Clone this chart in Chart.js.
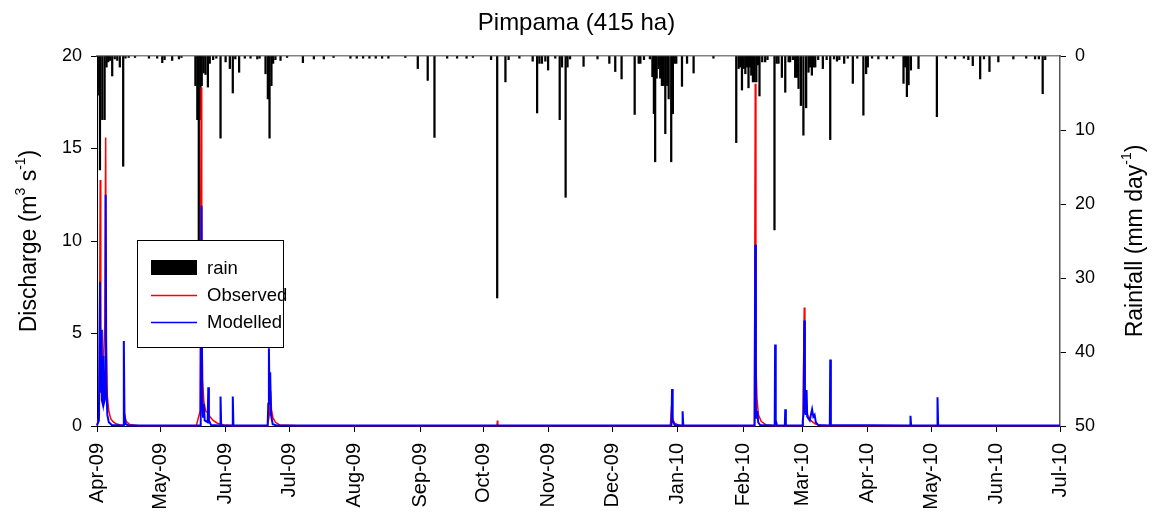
<!DOCTYPE html>
<html>
<head>
<meta charset="utf-8">
<script src="https://cdn.jsdelivr.net/npm/chart.js@4"></script>
<style>
html,body{margin:0;padding:0;background:#fff;}
#wrap{position:relative;width:1153px;height:519px;}
</style>
</head>
<body>
<div id="wrap"><canvas id="c" width="1153" height="519"></canvas></div>
<script>
// ---------- DATA (x = days since 1 Apr 2009) ----------
const monthDays = [0,30,61,91,122,153,183,214,244,275,306,334,365,395,426,456];
const monthLabels = ['Apr-09','May-09','Jun-09','Jul-09','Aug-09','Sep-09','Oct-09','Nov-09','Dec-09','Jan-10','Feb-10','Mar-10','Apr-10','May-10','Jun-10','Jul-10'];

const rainDay = [0.4,1.4,2.5,3.6,4.5,5.3,6.1,7.2,8.4,9.6,10.8,12.4,13.5,15,18,24.6,28.5,30.9,32,35.6,38.8,40,
  46.6,47.5,48.2,49.0,49.6,50.5,51.4,52.5,53.4,55,56.5,58.5,60.9,62.9,64.3,65.5,67.3,70,72.7,75.9,77,
  79.8,80.9,81.7,82.6,83.4,84.5,86.9,90,97.5,102.7,107.4,112,120,123,126,129,132,135,138,146,151.9,156.6,159.8,165.8,170.5,175,178,
  186.6,189.5,193.4,194.9,200,206.3,208.4,209.5,210.7,212.3,213.6,217,219.1,220.2,221.9,222.8,224,230.4,237,242.6,245.4,248.4,254.6,256.5,257.3,259,261.8,
  263,263.7,264.3,265,265.9,266.7,267.5,268.3,269.1,270,270.7,271.9,272.7,273.5,274.3,277,279.4,282.5,291.9,
  302.7,303.8,304.6,305.4,306.2,307.0,307.8,308.5,309.2,309.8,310.6,311.4,312.2,313,313.7,315,316.4,317.5,320.8,321.8,322.7,324.3,325.9,327.5,328.2,329.5,
  330.6,331.4,332.2,333.3,334.5,335.8,336.9,337.7,338.5,339.3,340.1,341.5,343.7,345.5,347.2,349,350.4,351.5,353.8,355.5,357.9,360,362.9,364.2,365.0,367,370,374,377,
  381.9,382.7,383.5,384.3,385.4,389.0,397.7,402,406.3,410.5,412.6,414.7,418.2,420,422.6,426.8,433.9,440,444.2,446,447.8,449];
const rainMm = [5.3,15.4,8.6,8.6,1.5,0.8,0.6,2.7,0.4,0.6,1.5,14.9,0.3,0.2,0.2,0.3,0.3,0.9,0.5,0.6,0.4,0.2,
  4,8.6,25.5,8.6,4,2.3,2.5,4.2,1.0,0.5,0.3,11.1,0.8,1.7,5.0,0.4,2.2,0.3,0.3,0.4,0.3,
  2.4,5.8,11.1,4,1,0.5,0.6,0.2,0.9,0.4,0.4,0.2,0.3,0.3,0.3,0.3,0.3,0.3,0.3,0.2,1.7,3.3,11.0,0.3,0.3,0.3,0.2,
  0.5,32.7,3.5,0.5,0.3,0.7,7.7,1,1,0.7,1.9,0.3,8.6,1.5,19.1,1.5,0.4,1.4,0.4,1.0,2.1,3.1,7.9,1.0,1.0,0.5,0.4,
  2.8,7.8,14.3,3,1.7,3,4,4,10.5,4,5.8,14.3,7.8,1,1,4.1,1,2.3,0.3,
  11.7,1.7,1.5,4.6,1.7,2.4,1.5,4.3,1.5,2.6,3.5,3.5,3.5,1.2,5.4,0.8,0.8,0.5,23.5,1.0,1.0,2.9,4.9,0.8,0.8,0.5,
  2.9,2.9,4.4,6.7,10.7,7,2.2,1.5,2.6,1.5,1.5,0.5,1.7,0.5,11.3,0.4,0.7,0.5,1,0.3,3.7,0.3,8,2.4,1.5,0.3,0.4,0.4,0.3,
  3.7,1.5,5.5,3.9,1.9,1.7,8.2,0.3,0.4,0.3,0.5,1.3,3.1,0.4,2.1,0.8,0.4,0.3,0.4,0.4,5.1,0.5];

const obsDay = [0,1.1,1.5,1.8,2.4,3.0,3.7,4.1,4.4,4.9,5.6,6.5,7.5,9,11,12.5,12.7,13.0,13.8,15.5,20,47,48.8,49.3,49.6,50.0,50.6,51.5,52.5,53.5,55,57,60,65,
  80.8,81.6,82.2,82.6,83.3,84.5,86.5,95,189.4,189.6,189.8,271.5,272.1,272.5,273.5,276,311.3,311.7,312.0,312.5,313.2,314.5,317,320.9,321.1,321.5,
  334.0,334.3,334.9,335.2,335.8,336.5,338,340,343,456];
const obsQ = [0.02,0.6,13.3,3.5,2.2,3.5,5.5,15.6,4.5,1.6,0.8,0.4,0.25,0.12,0.05,0.03,1.4,0.6,0.25,0.08,0.02,0.01,0.8,18.3,6,2.5,1.3,0.8,0.7,0.5,0.3,0.15,0.06,0.02,
  0.01,0.6,1.9,0.9,0.45,0.2,0.06,0.01,0.01,0.3,0.01,0.01,1.1,0.4,0.15,0.02,0.02,18.5,3.5,1.5,0.6,0.25,0.05,0.02,0.3,0.02,
  0.02,0.4,6.4,2,1.1,0.6,0.3,0.12,0.02,0.01];

const modDay = [0,0.9,1.4,1.7,2.0,2.3,2.7,3.0,3.4,3.8,4.1,4.4,4.9,5.6,7,12.5,12.7,13.0,13.6,15,49.1,49.5,49.8,50.2,50.6,51,52.4,52.7,53.0,54,58.3,58.5,58.8,64.1,64.3,64.6,
  80.8,81.1,81.4,81.7,82.0,82.4,83.2,85,272.0,272.3,272.6,273.5,277.1,277.3,277.6,311.4,311.7,312.0,312.4,312.7,313.1,314,320.9,321.1,321.4,322,325.7,325.9,326.2,
  334.0,334.2,334.6,334.9,335.2,335.6,336.0,336.3,337.5,338.6,339.2,339.8,340.4,341.5,347.0,347.2,347.5,385,385.2,385.5,397.8,398,398.3,456];
const modQ = [0.03,0.3,7.8,1.8,5.2,1.4,1.2,3.8,1.3,1.5,12.5,2.2,0.6,0.2,0.05,0.03,4.6,0.7,0.1,0.03,0.03,11.9,1.6,0.5,1.2,0.3,0.2,2.1,0.3,0.05,0.03,1.6,0.03,0.03,1.6,0.03,
  0.03,1.2,4.2,1.3,2.9,0.6,0.1,0.03,0.03,2.0,0.3,0.05,0.03,0.8,0.03,0.03,9.8,1.0,0.4,0.8,0.2,0.05,0.03,4.4,0.3,0.03,0.03,0.9,0.03,
  0.03,0.3,0.7,5.7,1.2,0.6,1.95,0.5,0.3,0.9,0.5,0.6,0.2,0.05,0.03,3.6,0.05,0.03,0.55,0.03,0.03,1.55,0.03,0.03];

const qTicks = [0,5,10,15,20];
const rTicks = [0,10,20,30,40,50];

// ---------- BUILD ----------
const FONT = "'Liberation Sans', Arial, sans-serif";
const zip = (xs, ys) => xs.map((x, i) => ({x: x, y: ys[i]}));

const richTitles = {
  id: 'richTitles',
  afterDraw(chart) {
    const ctx = chart.ctx;
    const a = chart.chartArea;
    const cy = (a.top + a.bottom) / 2;
    function draw(x, parts, size) {
      ctx.save();
      ctx.translate(x, cy);
      ctx.rotate(-Math.PI / 2);
      ctx.fillStyle = '#000';
      ctx.textBaseline = 'middle';
      ctx.textAlign = 'left';
      let w = 0;
      parts.forEach(p => {
        ctx.font = (p.sup ? Math.round(size * 0.62) : size) + 'px ' + FONT;
        p.w = ctx.measureText(p.t).width; w += p.w;
      });
      let cx = -w / 2;
      parts.forEach(p => {
        ctx.font = (p.sup ? Math.round(size * 0.62) : size) + 'px ' + FONT;
        ctx.fillText(p.t, cx, p.sup ? -size * 0.38 : 0);
        cx += p.w;
      });
      ctx.restore();
    }
    draw(30, [{t:'Discharge (m'},{t:'3',sup:true},{t:' s'},{t:'-1',sup:true},{t:')'}], 23);
    draw(1136, [{t:'Rainfall (mm day'},{t:'-1',sup:true},{t:')'}], 23);
  }
};

const boxLegend = {
  id: 'boxLegend',
  afterDraw(chart) {
    const ctx = chart.ctx;
    const ds = chart.data.datasets;
    ctx.save();
    ctx.fillStyle = '#fff';
    ctx.fillRect(137.5, 240.5, 146, 107);
    ctx.strokeStyle = '#000';
    ctx.lineWidth = 1;
    ctx.strokeRect(137.5, 240.5, 146, 107);
    ctx.font = '18.5px ' + FONT;
    ctx.textBaseline = 'middle';
    ctx.textAlign = 'left';
    const rows = [268, 295, 322];
    ds.forEach((d, i) => {
      const y = rows[d.legendRow];
      if (d.type === 'bar') {
        ctx.fillStyle = d.backgroundColor;
        ctx.fillRect(151, y - 8, 46, 15);
      } else {
        ctx.strokeStyle = d.borderColor;
        ctx.lineWidth = 1.3;
        ctx.beginPath(); ctx.moveTo(151, y + 0.5); ctx.lineTo(197, y + 0.5); ctx.stroke();
      }
      ctx.fillStyle = '#000';
      ctx.fillText(d.label, 207, y + 1);
    });
    ctx.restore();
  }
};

const tickFont = {family: FONT, size: 18};

new Chart(document.getElementById('c'), {
  data: {
    datasets: [
      {type: 'line', label: 'Modelled', legendRow: 2, data: zip(modDay, modQ), yAxisID: 'y',
       borderColor: '#0000ff', borderWidth: 2, pointRadius: 0, tension: 0, order: 1, clip: 4},
      {type: 'line', label: 'Observed', legendRow: 1, data: zip(obsDay, obsQ), yAxisID: 'y',
       borderColor: '#ff0000', borderWidth: 1.5, pointRadius: 0, tension: 0, order: 2, clip: 4},
      {type: 'bar', label: 'rain', legendRow: 0, data: zip(rainDay, rainMm), yAxisID: 'y2',
       backgroundColor: '#000000', borderWidth: 0, barThickness: 1.6, order: 3}
    ]
  },
  options: {
    responsive: false,
    animation: false,
    events: [],
    layout: {padding: {left: 0, right: 0, top: 0, bottom: 0}},
    plugins: {
      legend: {display: false},
      tooltip: {enabled: false},
      title: {display: true, text: 'Pimpama (415 ha)', color: '#000',
              font: {family: FONT, size: 24, weight: 'normal', lineHeight: 1.2},
              padding: {top: 9, bottom: 18.2}}
    },
    scales: {
      x: {
        type: 'linear', position: 'bottom', min: 0, max: 456, offset: false,
        afterBuildTicks: s => { s.ticks = monthDays.map(v => ({value: v})); },
        afterFit: s => { s.height = 93; },
        ticks: {
          autoSkip: false, minRotation: 90, maxRotation: 90, padding: 11, color: '#000',
          font: {family: FONT, size: 20},
          callback: (v) => { const i = monthDays.indexOf(v); return i >= 0 ? monthLabels[i] : ''; }
        },
        grid: {drawOnChartArea: false, offset: false, tickLength: 6, color: '#000', tickColor: '#000'},
        border: {color: '#000', width: 1}
      },
      xTop: {
        type: 'linear', position: 'top', min: 0, max: 456, offset: false,
        ticks: {display: false}, afterFit: s => { s.height = 0; },
        grid: {display: false}, border: {color: '#808080', width: 1.5}
      },
      y: {
        type: 'linear', position: 'left', min: 0, max: 20,
        afterBuildTicks: s => { s.ticks = qTicks.map(v => ({value: v})); },
        afterFit: s => { s.width = 97; },
        ticks: {color: '#000', font: tickFont, padding: 9},
        grid: {drawOnChartArea: false, tickLength: 6, color: '#000', tickColor: '#000'},
        border: {color: '#000', width: 1}
      },
      y2: {
        type: 'linear', position: 'right', min: 0, max: 50, reverse: true,
        afterBuildTicks: s => { s.ticks = rTicks.map(v => ({value: v})); },
        afterFit: s => { s.width = 93; },
        ticks: {color: '#000', font: tickFont, padding: 9},
        grid: {drawOnChartArea: false, tickLength: 6, color: '#000', tickColor: '#000'},
        border: {color: '#555', width: 1.5}
      }
    }
  },
  plugins: [richTitles, boxLegend]
});
</script>
</body>
</html>
